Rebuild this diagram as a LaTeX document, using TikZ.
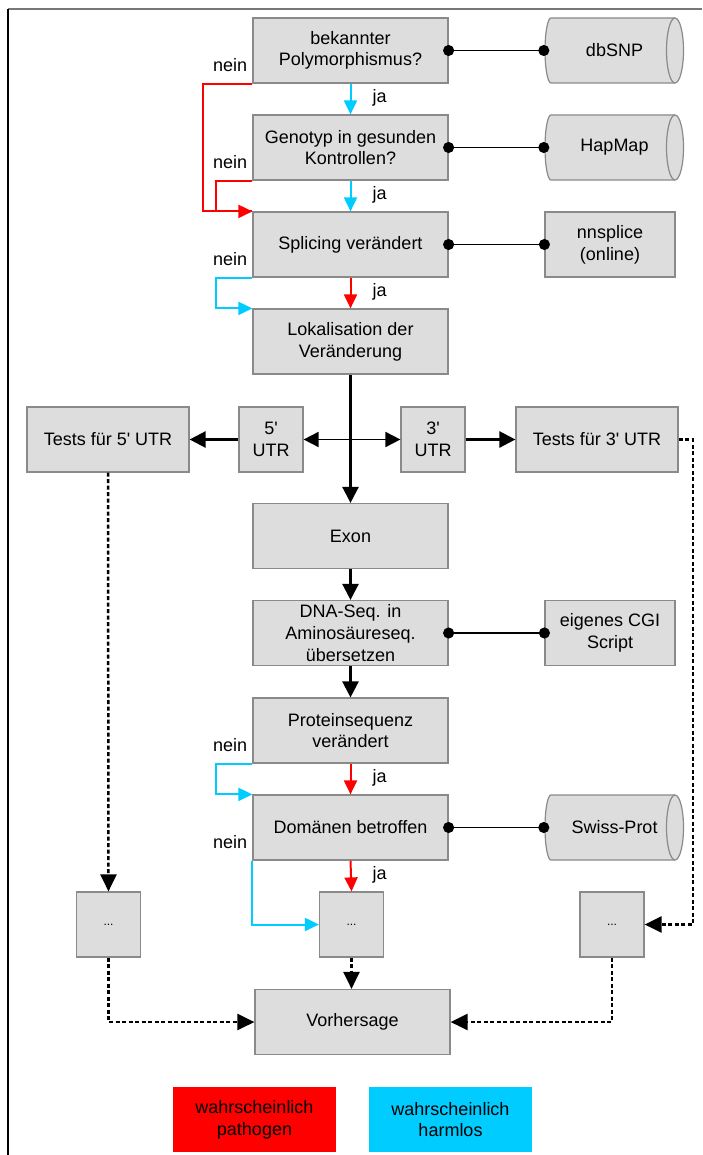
\documentclass[tikz,border=0pt]{standalone}
\usepackage{fontspec}
\setmainfont{Liberation Sans}
\usetikzlibrary{arrows.meta}
\definecolor{boxfill}{HTML}{DDDDDD}
\definecolor{boxdraw}{HTML}{8A8A8A}
\definecolor{pred}{HTML}{FF0000}
\definecolor{pcyan}{HTML}{00CCFF}
\definecolor{framegray}{HTML}{777777}
\tikzset{
  every node/.style={font=\fontsize{18}{21.7}\selectfont, align=center, inner sep=0pt},
  box/.style={draw=boxdraw, fill=boxfill, line width=1.2pt, minimum width=195pt, minimum height=65pt},
  sidebox/.style={box, minimum width=130pt},
  utrbox/.style={box, minimum width=64pt},
  testbox/.style={box, minimum width=162pt},
  dotbox/.style={box, minimum width=64pt, font=\fontsize{12}{14}\selectfont},
  legend/.style={minimum width=163pt, minimum height=65pt},
  dbnode/.style={minimum width=141pt, minimum height=66pt,
    path picture={
      \path[draw=boxdraw, fill=boxfill, line width=1.2pt]
        ([shift={(-63.5,-32.5)}]path picture bounding box.center) --
        ([shift={(60.5,-32.5)}]path picture bounding box.center)
        arc[start angle=-90, end angle=90, x radius=8.5, y radius=32.5] --
        ([shift={(-63.5,32.5)}]path picture bounding box.center)
        arc[start angle=90, end angle=270, x radius=6, y radius=32.5] -- cycle;
      \draw[boxdraw, line width=1.2pt]
        ([shift={(60.5,-32.5)}]path picture bounding box.center)
        arc[start angle=270, end angle=90, x radius=8.5, y radius=32.5];
    }},
  lbl/.style={},
  conn/.style={line width=1.8pt, {Circle[length=11pt]}-{Circle[length=11pt]}, shorten <=-5.5pt, shorten >=-5.5pt},
  redarrow/.style={draw=pred, line width=2pt, -{Triangle[length=14pt,width=13pt]}},
  cyanarrow/.style={draw=pcyan, line width=2pt, -{Triangle[length=14pt,width=13pt]}},
  redline/.style={draw=pred, line width=2pt},
  blkarrow/.style={line width=2.5pt, -{Triangle[length=16pt,width=16pt]}},
  dasharrow/.style={line width=2.5pt, dash pattern=on 4pt off 2.5pt, -{Triangle[length=17pt,width=16pt]}},
}
\begin{document}
\begin{tikzpicture}[x=1pt,y=-1pt]
\useasboundingbox (0,0) rectangle (702,1155);
% frame
\draw[framegray, line width=2pt] (8,9) -- (702,9);
\draw[black, line width=1.5pt] (8,9) -- (8,1155);

% main column
\node[box] (b1) at (350.5,50.5) {bekannter\\Polymorphismus?};
\node[box] (b2) at (350.5,147.5) {Genotyp in gesunden\\Kontrollen?};
\node[box] (b3) at (350.5,244.5) {Splicing verändert};
\node[box] (b4) at (350.5,341.5) {Lokalisation der\\Veränderung};
\node[testbox] (t5) at (108,439.5) {Tests für 5\textquotesingle{} UTR};
\node[utrbox] (u5) at (271,439.5) {5\textquotesingle\\UTR};
\node[utrbox] (u3) at (433,439.5) {3\textquotesingle\\UTR};
\node[testbox] (t3) at (597,439.5) {Tests für 3\textquotesingle{} UTR};
\node[box] (exon) at (350.5,536) {Exon};
\node[box] (dna) at (350.5,633) {DNA-Seq. in\\Aminosäureseq.\\übersetzen};
\node[box] (prot) at (350.5,730.5) {Proteinsequenz\\verändert};
\node[box] (dom) at (350.5,827.5) {Domänen betroffen};
\node[dotbox] (d1) at (108.5,924.5) {...};
\node[dotbox] (d2) at (351.5,924.5) {...};
\node[dotbox] (d3) at (612,924.5) {...};
\node[box] (vor) at (352.5,1022) {Vorhersage};

% side column
\node[dbnode] (db1) at (614.5,50.5) {dbSNP};
\node[dbnode] (db2) at (614.5,147.5) {HapMap};
\node[sidebox] (nn) at (610,244.5) {nnsplice\\(online)};
\node[sidebox] (cgi) at (610,633) {eigenes CGI\\Script};
\node[dbnode] (sw) at (614.5,827.5) {Swiss-Prot};

% legend
\node[legend, fill=pred] (lr) at (254.5,1119.5) {wahrscheinlich\\pathogen};
\node[legend, fill=pcyan] (lc) at (450.5,1119.5) {wahrscheinlich\\harmlos};

% connectors to resources
\draw[conn] (b1.east) -- (db1.west);
\draw[conn] (b2.east) -- (db2.west);
\draw[conn] (b3.east) -- (nn.west);
\draw[conn] (dna.east) -- (cgi.west);
\draw[conn] (dom.east) -- (sw.west);

% ja arrows
\draw[cyanarrow] (b1.south) -- (b2.north);
\draw[cyanarrow] (b2.south) -- (b3.north);
\draw[redarrow] (b3.south) -- (b4.north);
\draw[redarrow] (prot.south) -- (dom.north);
\draw[redarrow] (dom.south) -- (d2.north);

% nein paths
\draw[redline] (b2.south west) -- ++(-36,0) |- (b3.north west);
\draw[redarrow] (b1.south west) -- ++(-49,0) |- (b3.north west);
\draw[cyanarrow] (b3.south west) -- ++(-36,0) |- (b4.north west);
\draw[cyanarrow] (prot.south west) -- ++(-36,0) |- (dom.north west);
\draw[cyanarrow] (dom.south west) |- (d2.west);

% labels
\node[lbl, anchor=east] (n1) at ([shift={(-5,-19)}]b1.south west) {nein};
\node[lbl, anchor=east] (n2) at ([shift={(-5,-19)}]b2.south west) {nein};
\node[lbl, anchor=east] (n3) at ([shift={(-5,-19)}]b3.south west) {nein};
\node[lbl, anchor=east] (n4) at ([shift={(-5,-19)}]prot.south west) {nein};
\node[lbl, anchor=east] (n5) at ([shift={(-5,-19)}]dom.south west) {nein};
\node[lbl, anchor=west] (j1) at ([shift={(22,14)}]b1.south) {ja};
\node[lbl, anchor=west] (j2) at ([shift={(22,14)}]b2.south) {ja};
\node[lbl, anchor=west] (j3) at ([shift={(22,14)}]b3.south) {ja};
\node[lbl, anchor=west] (j4) at ([shift={(22,14)}]prot.south) {ja};
\node[lbl, anchor=west] (j5) at ([shift={(22,14)}]dom.south) {ja};

% black flow
\draw[blkarrow] (b4.south) -- (exon.north);
\draw[line width=1.8pt, {Triangle[length=15pt,width=15pt]}-{Triangle[length=15pt,width=15pt]}] (u5.east) -- (u3.west);
\draw[blkarrow] (u5.west) -- (t5.east);
\draw[blkarrow] (u3.east) -- (t3.west);
\draw[blkarrow] (exon.south) -- (dna.north);
\draw[blkarrow] (dna.south) -- (prot.north);

% dashed
\coordinate (c3) at (693,439.5);
\draw[dasharrow] (t3.east) -- (c3) |- (d3.east);
\draw[dasharrow] (t5.south) -- (d1.north);
\draw[dasharrow] (d1.south) |- (vor.west);
\draw[dasharrow] (d2.south) -- (d2.south |- vor.north);
\draw[dasharrow] (d3.south) |- (vor.east);
\end{tikzpicture}
\end{document}
